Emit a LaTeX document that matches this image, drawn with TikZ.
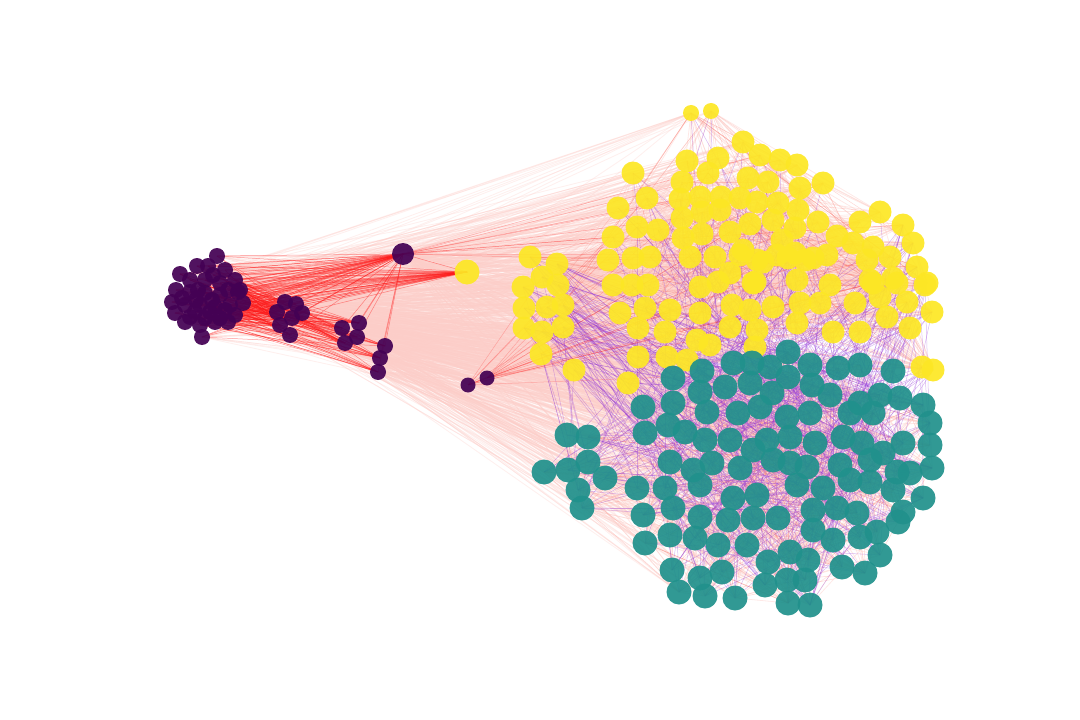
\documentclass[tikz,border=0pt]{standalone}
\usepackage{tikz}

\definecolor{vpurple}{HTML}{440154}
\definecolor{vteal}{HTML}{21918C}
\definecolor{vyellow}{HTML}{FDE725}
\definecolor{edgered}{HTML}{FF1A1A}
\definecolor{edgepink}{HTML}{FA7268}
\definecolor{edgelight}{HTML}{FCCDC8}
\definecolor{edgeviolet}{HTML}{9438D8}

\tikzset{
  pnode/.style={fill=vpurple, fill opacity=0.93},
  tnode/.style={fill=vteal, fill opacity=0.93},
  ynode/.style={fill=vyellow, fill opacity=0.93},
  rededge/.style={draw=edgered, draw opacity=0.45, line width=0.5bp},
  fanedge/.style={draw=edgelight, draw opacity=0.3, line width=0.9bp},
  inedge/.style={draw=edgelight, draw opacity=0.45, line width=0.8bp},
  sharpedge/.style={draw=edgepink, draw opacity=0.3, line width=0.45bp},
  violetedge/.style={draw=edgeviolet, draw opacity=0.35, line width=0.5bp}
}

\begin{document}
\begin{tikzpicture}[x=1bp, y=-1bp]
  \useasboundingbox (0,0) rectangle (1080,720);
  \pgfmathsetseed{17}

  % 紫色节点
  \foreach \x/\y [count=\i] in {217/256, 197/266, 180/274, 208/266, 225/270, 190/280, 205/280, 220/283,
    235/280, 176/290, 190/292, 205/293, 220/295, 238/292, 172/302, 185/305, 200/305, 215/307,
    230/305, 243/303, 175/313, 190/317, 205/318, 220/318, 235/315, 185/322, 200/325, 215/322,
    228/322, 202/337, 182/298, 196/300, 212/300, 228/290, 240/290, 213/275, 198/290, 210/312,
    195/312, 225/310,
    285/302, 296/304, 302/313, 277/312, 280/325, 290/335, 292/318,
    342/328, 359/323, 357/337, 345/343,
    385/346, 380/358, 378/372}
    {\coordinate (p\i) at (\x,\y); \xdef\np{\i}}
  \coordinate (pbig) at (403,254);
  \coordinate (d1) at (468,385);
  \coordinate (d2) at (487,378);

  % 黄色节点
  \coordinate (ybig) at (467,272);
  \foreach \x/\y [count=\i] in {691/113, 711/111, 743/142, 760/155, 780/160, 797/165, 823/183, 687/161,
    718/158, 633/173, 647/198, 618/208, 682/182, 708/173, 748/178, 768/182, 680/199, 700/197,
    721/197, 740/198, 757/202, 778/203, 800/188, 798/210, 637/227, 658/230, 613/237, 682/218,
    702/212, 720/210, 730/232, 750/224, 773/220, 795/228, 818/222, 683/238, 702/234, 782/240,
    837/236, 860/222, 880/212, 903/225, 913/243, 853/243, 873/247, 890/257, 917/267, 927/283,
    867/260,
    530/257, 557/264, 608/260, 633/258, 650/257, 690/257, 715/257, 740/255, 757/260, 777/255,
    795/253, 813/258, 827/255, 743/250, 763/262, 788/258, 805/260,
    542/277, 523/287, 558/285, 613/285, 632/285, 648/285, 700/287, 718/282, 730/273, 755/282,
    797/280, 830/285, 870/280, 893/278, 753/283, 873/283, 897/283, 925/285,
    524/308, 547/307, 563/305, 620/313, 645/308, 670/310, 700/313, 732/305, 773/307, 800/303,
    820/303, 855/303, 880/297, 907/302, 932/312, 750/310, 887/317,
    524/328, 542/332, 563/327, 638/328, 665/332, 697/340, 730/327, 757/330, 797/323, 833/332,
    860/332, 910/328,
    541/354, 574/370, 638/357, 667/357, 687/360, 710/345, 755/347, 922/367, 933/370, 628/383}
    {\coordinate (y\i) at (\x,\y); \xdef\ny{\i}}

  % 青色节点
  \foreach \x/\y [count=\i] in {673/378, 702/371, 733/363, 752/363, 770/367, 788/352, 810/365, 838/368,
    860/365, 893/371, 725/387, 700/392, 750/383, 772/393, 788/377, 812/385, 830/395,
    643/407, 673/403, 707/412, 738/413, 760/407, 787/417, 810/413, 850/413, 860/403, 880/395,
    900/398, 923/405, 873/413,
    567/435, 588/437, 645/433, 668/425, 685/432, 705/440, 730/440, 767/440, 790/437, 815/443,
    843/437, 862/443, 883/453, 903/443, 930/423, 930/445,
    544/472, 568/470, 588/462, 605/478, 670/462, 693/470, 712/463, 740/468, 753/450, 773/460,
    790/463, 807/467, 840/465, 870/460, 897/472, 910/473, 932/468,
    578/490, 582/508, 637/488, 665/488, 700/485, 733/498, 757/495, 797/485, 823/488, 850/480,
    870/482, 893/490, 923/498,
    643/515, 673/508, 700/517, 728/520, 753/518, 778/518, 813/510, 837/508, 857/513, 903/512,
    898/522,
    645/543, 670/535, 695/538, 718/545, 747/545, 790/552, 813/530, 833/540, 860/537, 877/532,
    672/570, 700/578, 722/572, 768/562, 808/560, 842/567, 865/573, 880/555,
    679/592, 705/596, 735/598, 765/585, 787/580, 805/580, 788/603, 810/605}
    {\coordinate (t\i) at (\x,\y); \xdef\nt{\i}}

  % 浅色长边（紫色团 -> 右侧）
  \foreach \k in {1,...,420}{
    \pgfmathrandominteger{\a}{1}{40}
    \pgfmathrandominteger{\b}{1}{\ny}
    \draw[fanedge] (p\a) -- (y\b);
  }
  \foreach \k in {1,...,280}{
    \pgfmathrandominteger{\a}{1}{40}
    \pgfmathrandominteger{\b}{1}{46}
    \draw[fanedge] (p\a) -- (t\b);
  }
  \foreach \k in {1,...,420}{
    \pgfmathrandominteger{\a}{41}{\np}
    \pgfmathrandominteger{\b}{1}{\nt}
    \draw[fanedge] (p\a) -- (t\b);
  }
  \foreach \k in {1,...,160}{
    \pgfmathrandominteger{\a}{41}{\np}
    \pgfmathrandominteger{\b}{1}{\ny}
    \draw[fanedge] (p\a) -- (y\b);
  }
  \foreach \k in {1,...,80}{
    \pgfmathrandominteger{\b}{1}{\ny}
    \draw[fanedge] (pbig) -- (y\b);
    \pgfmathrandominteger{\b}{1}{\nt}
    \draw[fanedge] (pbig) -- (t\b);
  }

  % 社区内部的边
  \foreach \k in {1,...,900}{
    \pgfmathrandominteger{\a}{1}{\ny}
    \pgfmathrandominteger{\b}{1}{\ny}
    \draw[inedge] (y\a) -- (y\b);
  }
  \foreach \k in {1,...,700}{
    \pgfmathrandominteger{\a}{1}{\nt}
    \pgfmathrandominteger{\b}{1}{\nt}
    \draw[inedge] (t\a) -- (t\b);
  }
  \foreach \k in {1,...,250}{
    \pgfmathrandominteger{\a}{1}{\ny}
    \pgfmathrandominteger{\b}{1}{\ny}
    \draw[sharpedge] (y\a) -- (y\b);
    \pgfmathrandominteger{\a}{1}{\nt}
    \pgfmathrandominteger{\b}{1}{\nt}
    \draw[sharpedge] (t\a) -- (t\b);
  }
  \foreach \k in {1,...,220}{
    \pgfmathrandominteger{\a}{1}{\nt}
    \pgfmathrandominteger{\b}{1}{\nt}
    \draw[violetedge] (t\a) -- (t\b);
  }
  \foreach \k in {1,...,260}{
    \pgfmathrandominteger{\a}{1}{\ny}
    \pgfmathrandominteger{\b}{1}{\nt}
    \draw[violetedge] (y\a) -- (t\b);
  }
  % 左右两侧的紫色边
  \foreach \a in {50,51,67,68,69,85,86,87,102,103,104,114,115,42,43,47,48,84,99,100,113,121,122}
    \foreach \k in {1,...,6}{
      \pgfmathrandominteger{\b}{1}{\nt}
      \draw[violetedge] (y\a) -- (t\b);
    }

  % 红色边（紫色团）
  \foreach \i in {1,...,40}{
    \draw[rededge] (p\i) -- (pbig);
    \draw[rededge] (p\i) -- (ybig);
  }
  \foreach \k in {1,...,160}{
    \pgfmathrandominteger{\a}{1}{40}
    \pgfmathrandominteger{\b}{41}{\np}
    \draw[rededge] (p\a) -- (p\b);
  }
  \foreach \i in {41,...,\np}
    \draw[rededge] (p\i) -- (pbig);
  \draw[rededge] (pbig) -- (ybig);
  \foreach \k in {1,...,10}{
    \pgfmathrandominteger{\b}{1}{60}
    \draw[rededge, draw opacity=0.3] (pbig) -- (y\b);
  }
  \foreach \k in {1,...,12}{
    \pgfmathrandominteger{\b}{1}{\ny}
    \draw[rededge, draw opacity=0.25] (d1) -- (y\b);
    \pgfmathrandominteger{\b}{1}{\ny}
    \draw[rededge, draw opacity=0.25] (d2) -- (y\b);
  }

  % 画节点
  \foreach \i in {1,...,\np}
    \fill[pnode] (p\i) circle (8bp);
  \fill[pnode] (pbig) circle (11bp);
  \fill[pnode] (d1) circle (7.5bp);
  \fill[pnode] (d2) circle (7.5bp);
  \fill[ynode] (ybig) circle (12.5bp);
  \fill[ynode] (y1) circle (8bp);
  \fill[ynode] (y2) circle (8bp);
  \foreach \i in {3,...,\ny}
    \fill[ynode] (y\i) circle (11.5bp);
  \foreach \i in {1,...,\nt}
    \fill[tnode] (t\i) circle (12.5bp);
\end{tikzpicture}
\end{document}
